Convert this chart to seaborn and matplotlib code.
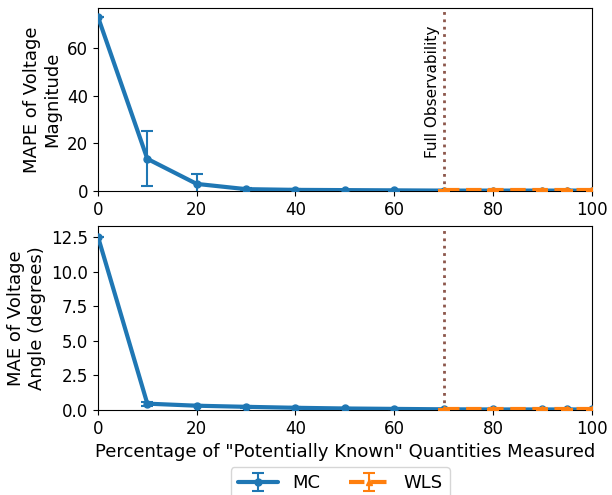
import matplotlib
matplotlib.use("Agg")
import matplotlib.pyplot as plt
import seaborn as sns
import numpy as np

# percentage of "potentially known" quantities measured
pct_mc = [0, 10, 20, 30, 40, 50, 60, 70, 80, 90, 95, 100]
pct_wls = [70, 80, 90, 95, 100]

# MAPE of voltage magnitude
mape_mc = [73.0, 13.5, 3.0, 0.8, 0.5, 0.4, 0.3, 0.2, 0.2, 0.2, 0.2, 0.2]
mape_mc_err = [0.0, 11.5, 4.0, 0.3, 0.2, 0.1, 0.1, 0.05, 0.05, 0.05, 0.05, 0.05]
mape_wls = [0.3, 0.3, 0.3, 0.3, 0.3]
mape_wls_err = [0.1, 0.1, 0.1, 0.1, 0.1]

# MAE of voltage angle (degrees)
mae_mc = [12.55, 0.45, 0.3, 0.22, 0.15, 0.1, 0.07, 0.04, 0.03, 0.03, 0.03, 0.03]
mae_mc_err = [0.0, 0.15, 0.05, 0.05, 0.03, 0.02, 0.02, 0.01, 0.01, 0.01, 0.01, 0.01]
mae_wls = [0.04, 0.04, 0.04, 0.04, 0.04]
mae_wls_err = [0.02, 0.02, 0.02, 0.02, 0.02]

full_obs = 70

sns.set_style("ticks")
plt.rcParams['font.family'] = ['DejaVu Sans']
plt.rcParams['font.size'] = 12
plt.rcParams['text.color'] = 'black'
plt.rcParams['xtick.color'] = 'black'
plt.rcParams['ytick.color'] = 'black'
plt.rcParams['axes.labelcolor'] = 'black'
pal = sns.color_palette("tab10")

fig = plt.figure(figsize=(6.12, 4.95), dpi=100)
ax1 = fig.add_axes([0.160, 0.614, 0.807, 0.370])
ax2 = fig.add_axes([0.160, 0.172, 0.807, 0.371])

for ax, mc, mce, wls, wlse in [(ax1, mape_mc, mape_mc_err, mape_wls, mape_wls_err),
                               (ax2, mae_mc, mae_mc_err, mae_wls, mae_wls_err)]:
    ax.errorbar(pct_mc, mc, yerr=mce, color=pal[0], marker='o', ms=5, lw=3,
                capsize=4, elinewidth=1.5, capthick=1.5, label='MC', zorder=3)
    ax.errorbar(pct_wls, wls, yerr=wlse, color=pal[1], marker='^', ms=5, lw=3,
                ls='--', capsize=4, elinewidth=1.5, capthick=1.5, label='WLS', zorder=4)
    ax.axvline(full_obs, color=pal[5], ls=':', lw=2, zorder=2)
    ax.set_xlim(0, 100)
    ax.set_xticks([0, 20, 40, 60, 80, 100])
    ax.tick_params(labelsize=12, direction='out')
    for s in ax.spines.values():
        s.set_color('black')

ax1.set_ylim(0, 76.7)
ax1.set_yticks([0, 20, 40, 60])
ax2.set_ylim(0, 13.3)
ax2.set_yticks([0, 2.5, 5.0, 7.5, 10.0, 12.5])
ax2.yaxis.set_major_formatter(matplotlib.ticker.FormatStrFormatter('%.1f'))

ax1.set_ylabel('MAPE of Voltage\nMagnitude', fontsize=13)
ax2.set_ylabel('MAE of Voltage\nAngle (degrees)', fontsize=13)
ax2.set_xlabel('Percentage of "Potentially Known" Quantities Measured', fontsize=13)

ax1.text(69.3, 14, 'Full Observability', rotation=90, ha='right', va='bottom', fontsize=11)

h, l = ax2.get_legend_handles_labels()
fig.legend(h, l, loc='upper center', bbox_to_anchor=(0.556, 0.075), ncol=2,
           fontsize=13, handlelength=2.2, columnspacing=1.6)

fig.savefig("out.png", dpi=100)
